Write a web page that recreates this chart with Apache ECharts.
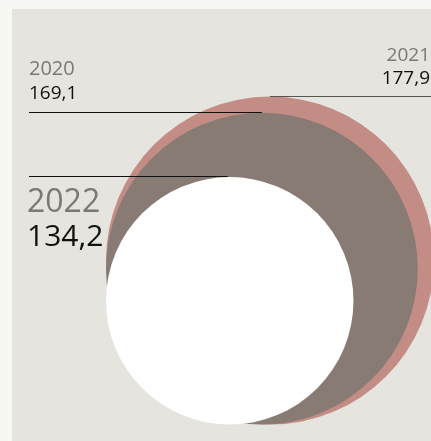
<!DOCTYPE html>
<html>
<head>
<meta charset="utf-8">
<script src="https://cdn.jsdelivr.net/npm/echarts@6/dist/echarts.min.js"></script>
<style>
	html, body { margin: 0; padding: 0; background: #f7f7f3; }
	#chart { width: 431px; height: 441px; }
</style>
</head>
<body>
<div id="chart"></div>
<script>
var years = ['2020', '2021', '2022'];
var values = [169.1, 177.9, 134.2];
// colours of the circles, same order as years
var circleColors = ['#887b73', '#c38c84', '#ffffff'];
// which side the label sits on (layout, not data)
var labelSide = { '2020': 'left-above', '2021': 'right-above', '2022': 'left-below' };

// draw the biggest circle first
var order = [0, 1, 2].sort(function (a, b) { return values[b] - values[a]; });
var seriesData = order.map(function (i) { return [i, values[i]]; });

function fmt(v) {
	return v.toFixed(1).replace('.', ',');
}

var chart = echarts.init(document.getElementById('chart'));
var W = 431;

var option = {
	backgroundColor: 'transparent',
	animation: false,
	graphic: [{
		type: 'rect',
		left: 12, top: 9,
		shape: { width: 419, height: 432 },
		style: { fill: '#e5e4de' },
		z: -10
	}],
	grid: { left: 106, right: 0, top: 0, bottom: 16.5 },
	xAxis: { type: 'value', min: 0, max: 352.5, show: false },
	yAxis: { type: 'value', min: 0, max: 460.5, show: false },
	series: [{
		type: 'custom',
		data: seriesData,
		z: 2,
		renderItem: function (params, api) {
			var i = api.value(0);
			var v = api.value(1);
			var c = api.coord([v, v]);
			var r = api.size([v, 0])[0];
			return {
				type: 'circle',
				shape: { cx: c[0], cy: c[1], r: r },
				style: { fill: circleColors[i] }
			};
		}
	}, {
		type: 'custom',
		data: seriesData,
		z: 5,
		renderItem: function (params, api) {
			var i = api.value(0);
			var v = api.value(1);
			var top = api.coord([v, 2 * v]);
			var y = Math.round(top[1]) - 0.5;
			var side = labelSide[years[i]];
			var big = side === 'left-below';
			var x1, x2, tx, align, yYear, yVal, fsYear, fsVal;
			if (side === 'right-above') {
				x1 = top[0]; x2 = W; tx = 430; align = 'right';
				yYear = y - 41; yVal = y - 18;
				fsYear = 19; fsVal = 19;
			} else if (side === 'left-above') {
				x1 = 29; x2 = top[0]; tx = 29; align = 'left';
				yYear = y - 43.5; yVal = y - 19;
				fsYear = 20; fsVal = 19;
			} else {
				x1 = 29; x2 = top[0] - 2; tx = 27; align = 'left';
				yYear = y + 26; yVal = y + 61;
				fsYear = 32; fsVal = 30;
			}
			return {
				type: 'group',
				children: [{
					type: 'line',
					shape: { x1: x1, y1: y, x2: x2, y2: y },
					style: { stroke: side === 'right-above' ? '#555552' : '#111111', lineWidth: 1 }
				}, {
					type: 'text',
					style: {
						x: tx, y: yYear, text: years[i],
						fill: '#7a7974', font: fsYear + 'px "Open Sans"',
						align: align, verticalAlign: 'middle'
					}
				}, {
					type: 'text',
					style: {
						x: tx, y: yVal, text: fmt(v),
						fill: '#111111', font: (big ? '500 ' : '') + fsVal + 'px "Open Sans"',
						align: align, verticalAlign: 'middle'
					}
				}]
			};
		}
	}]
};
chart.setOption(option);
</script>
</body>
</html>
